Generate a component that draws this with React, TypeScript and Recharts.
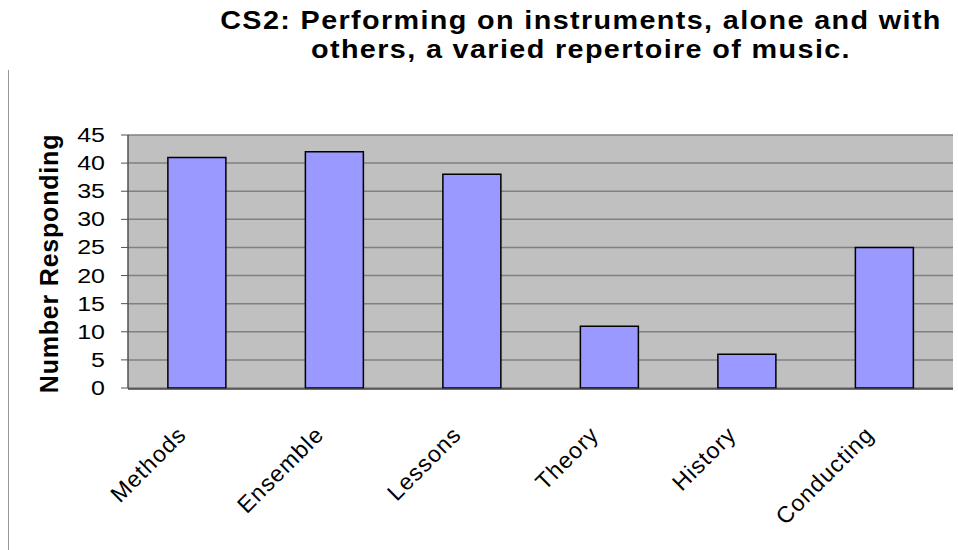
import React from "react";
import {
  BarChart,
  Bar,
  XAxis,
  YAxis,
  CartesianGrid,
  ReferenceLine,
  Label,
} from "recharts";

// ============================================================================
// Data
// ============================================================================

const categories = ["Methods", "Ensemble", "Lessons", "Theory", "History", "Conducting"];
const responses = [41, 42, 38, 11, 6, 25];
const yTicks = [0, 5, 10, 15, 20, 25, 30, 35, 40, 45];
// category boundaries for the small tick marks under the x axis
const edgeTicks = [0, 1, 2, 3, 4, 5, 6];

const titleLines = [
  "CS2: Performing on instruments, alone and with",
  "others, a varied repertoire of music.",
];
const yLabel = "Number Responding";

const data = categories.map((name, i) => ({ name, value: responses[i] }));

const FONT = '"Liberation Sans", Arial, Helvetica, sans-serif';

// ============================================================================
// Ticks and labels
// ============================================================================

function ValueTick({ x, y, payload }: any) {
  return (
    <g transform={`translate(${x},${y + 7}) scale(1.25,1)`}>
      <text x={0} y={0} textAnchor="end" fontSize={20} fontFamily={FONT} fill="#000">
        {payload.value}
      </text>
    </g>
  );
}

function CategoryTick({ x, y, payload }: any) {
  const ax = x - 9;
  const ay = y + 40;
  return (
    <text
      x={ax}
      y={ay}
      transform={`rotate(-45, ${ax}, ${ay})`}
      textAnchor="end"
      fontSize={23}
      letterSpacing={1.1}
      fontFamily={FONT}
      fill="#000"
    >
      {payload.value}
    </text>
  );
}

function YTitle({ viewBox }: any) {
  const x = viewBox.x + 58;
  const y = viewBox.y + viewBox.height / 2 + 2;
  return (
    <text
      x={x}
      y={y}
      transform={`rotate(-90, ${x}, ${y})`}
      textAnchor="middle"
      fontSize={25}
      fontWeight="bold"
      letterSpacing={0.8}
      fontFamily={FONT}
      fill="#000"
    >
      {yLabel}
    </text>
  );
}

// ============================================================================
// App
// ============================================================================

export default function App() {
  return (
    <div
      style={{
        position: "absolute",
        left: 0,
        top: 0,
        width: 958,
        height: 550,
        background: "#fff",
        overflow: "hidden",
        fontFamily: FONT,
      }}
    >
      {/* chart area border on the left */}
      <div
        style={{
          position: "absolute",
          left: 8,
          top: 70,
          width: 0,
          height: 480,
          borderLeft: "1px solid #999",
        }}
      />

      {/* title */}
      <div
        style={{
          position: "absolute",
          left: 181,
          top: 6,
          width: 800,
          textAlign: "center",
          fontSize: 25,
          lineHeight: "29px",
          fontWeight: "bold",
          letterSpacing: 1.2,
          transform: "scaleX(1.15)",
          transformOrigin: "400px 0",
          color: "#000",
        }}
      >
        {titleLines.map((t) => (
          <div key={t}>{t}</div>
        ))}
      </div>

      <BarChart
        width={958}
        height={550}
        data={data}
        margin={{ top: 135, right: 5, bottom: 160, left: 0 }}
        barCategoryGap="29%"
        style={{ position: "absolute", left: 0, top: 0 }}
      >
        <CartesianGrid
          xAxisId="cat"
          vertical={false}
          fill="#C0C0C0"
          stroke="#808080"
          strokeWidth={1.5}
          fillOpacity={1}
        />
        <XAxis
          xAxisId="edge"
          type="number"
          domain={[0, 6]}
          ticks={edgeTicks}
          tick={false}
          tickSize={8}
          height={1}
          axisLine={{ stroke: "#404040", strokeWidth: 1.5 }}
          tickLine={{ stroke: "#505050", strokeWidth: 1.2 }}
        />
        <XAxis
          xAxisId="cat"
          dataKey="name"
          interval={0}
          height={1}
          axisLine={false}
          tickLine={false}
          tick={<CategoryTick />}
        />
        <YAxis
          width={128}
          domain={[0, 45]}
          ticks={yTicks}
          interval={0}
          tickSize={7}
          tickMargin={16}
          axisLine={{ stroke: "#505050", strokeWidth: 1.5 }}
          tickLine={{ stroke: "#505050" }}
          tick={<ValueTick />}
        >
          <Label content={<YTitle />} />
        </YAxis>
        <ReferenceLine xAxisId="edge" x={6} stroke="#909090" strokeWidth={1.5} />
        <Bar
          xAxisId="cat"
          dataKey="value"
          fill="#9999FF"
          stroke="#000"
          strokeWidth={1.5}
          isAnimationActive={false}
        />
      </BarChart>
    </div>
  );
}
